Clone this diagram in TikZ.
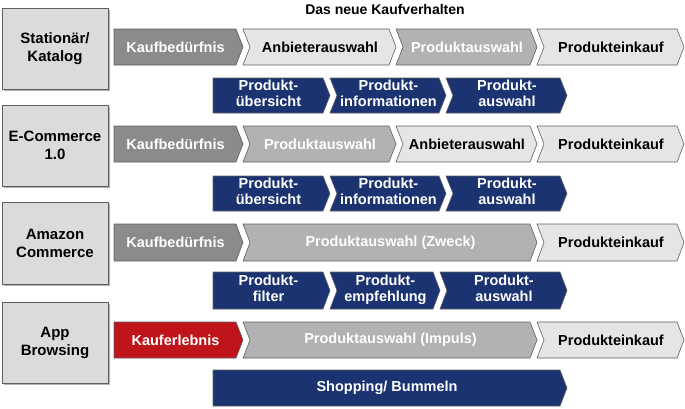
\documentclass[tikz,border=0pt]{standalone}
\usepackage{fontspec}
\setmainfont{Liberation Sans}
\definecolor{dunkelgrau}{HTML}{8A8B8D}
\definecolor{mittelgrau}{HTML}{B1B2B4}
\definecolor{hellgrau}{HTML}{E4E5E6}
\definecolor{kastengrau}{HTML}{DADBDC}
\definecolor{randgrau}{HTML}{5E5F61}
\definecolor{dunkelblau}{HTML}{1B3370}
\definecolor{kaufrot}{HTML}{C0141B}
\tikzset{
  kanal/.style={
    fill=kastengrau,
    draw=randgrau,
    line width=0.8pt,
  },
  schatten/.style={fill=gray!60},
  stufentext/.style={
    font=\bfseries\fontsize{14.5}{15}\selectfont,
    align=center,
    inner sep=0pt,
  },
}
% \stufe{name}{x1}{x2}{y1}{y2}{notch depth}{fill}{text colour}{label}
\newcommand\stufe[9]{%
  \pgfmathsetmacro\ym{(#4+#5)/2}
  \pgfmathsetmacro\xs{#3-7}
  \pgfmathsetmacro\xn{#2+#6}
  \pgfmathsetmacro\xm{(#2+#3)/2+(#6)/2-3}
  \draw[fill=#7, draw=randgrau, line width=0.6pt]
    (#2,#4) -- (\xs,#4) -- (#3,\ym) -- (\xs,#5) -- (#2,#5) -- (\xn,\ym) -- cycle;
  \node[stufentext, text=#8] (#1) at (\xm,\ym) {#9};
}
\newcommand\zwei[2]{#1\strut\\#2\strut}
\begin{document}
\begin{tikzpicture}[x=1pt,y=-1pt]
  \useasboundingbox (0,0) rectangle (685,408);
  \node[font=\bfseries\fontsize{14}{15}\selectfont] (titel) at (385,9) {Das neue Kaufverhalten};

  % Kanaele links
  \foreach \name/\ya/\yb/\txt in {stat/8/89/{Stationär/\\Katalog}, ecom/105/186/{E-Commerce\\1.0},
      amaz/202/284/{Amazon\\Commerce}, app/302/383/{App\\Browsing}} {
    \fill[schatten] (4,\ya+2) rectangle (110,\yb+2);
    \draw[kanal] (2,\ya) rectangle (108,\yb);
    \node[font=\bfseries\fontsize{15}{18}\selectfont, align=center] (\name) at (55,{(\ya+\yb)/2}) {\txt};
  }

  % Stationaer / Katalog
  \stufe{s1}{114}{243}{29}{65}{0}{dunkelgrau}{white}{Kaufbedürfnis}
  \stufe{s2}{243}{396}{29}{65}{7}{hellgrau}{black}{Anbieterauswahl}
  \stufe{s3}{396}{537}{29}{65}{7}{mittelgrau}{white}{Produktauswahl}
  \stufe{s4}{537}{684}{29}{65}{7}{hellgrau}{black}{Produkteinkauf}
  \stufe{sb1}{213}{330}{78}{113}{0}{dunkelblau}{white}{\zwei{Produkt-}{übersicht}}
  \stufe{sb2}{330}{446}{78}{113}{7}{dunkelblau}{white}{\zwei{Produkt-}{informationen}}
  \stufe{sb3}{446}{567}{78}{113}{7}{dunkelblau}{white}{\zwei{Produkt-}{auswahl}}

  % E-Commerce 1.0
  \stufe{e1}{114}{243}{126}{162}{0}{dunkelgrau}{white}{Kaufbedürfnis}
  \stufe{e2}{243}{396}{126}{162}{7}{mittelgrau}{white}{Produktauswahl}
  \stufe{e3}{396}{537}{126}{162}{7}{hellgrau}{black}{Anbieterauswahl}
  \stufe{e4}{537}{684}{126}{162}{7}{hellgrau}{black}{Produkteinkauf}
  \stufe{eb1}{213}{330}{176}{211}{0}{dunkelblau}{white}{\zwei{Produkt-}{übersicht}}
  \stufe{eb2}{330}{446}{176}{211}{7}{dunkelblau}{white}{\zwei{Produkt-}{informationen}}
  \stufe{eb3}{446}{567}{176}{211}{7}{dunkelblau}{white}{\zwei{Produkt-}{auswahl}}

  % Amazon Commerce
  \stufe{a1}{114}{243}{224}{261}{0}{dunkelgrau}{white}{Kaufbedürfnis}
  \stufe{a2}{243}{537}{224}{261}{7}{mittelgrau}{white}{Produktauswahl (Zweck)}
  \stufe{a3}{537}{684}{224}{261}{7}{hellgrau}{black}{Produkteinkauf}
  \stufe{ab1}{213}{330}{272}{309}{0}{dunkelblau}{white}{\zwei{Produkt-}{filter}}
  \stufe{ab2}{330}{440}{272}{309}{7}{dunkelblau}{white}{\zwei{Produkt-}{empfehlung}}
  \stufe{ab3}{440}{567}{272}{309}{7}{dunkelblau}{white}{\zwei{Produkt-}{auswahl}}

  % App Browsing
  \stufe{p1}{114}{243}{322}{358}{0}{kaufrot}{white}{Kauferlebnis}
  \stufe{p2}{243}{537}{322}{358}{7}{mittelgrau}{white}{Produktauswahl (Impuls)}
  \stufe{p3}{537}{684}{322}{358}{7}{hellgrau}{black}{Produkteinkauf}
  \stufe{pb1}{213}{567}{370}{406}{0}{dunkelblau}{white}{Shopping/ Bummeln}
\end{tikzpicture}
\end{document}
